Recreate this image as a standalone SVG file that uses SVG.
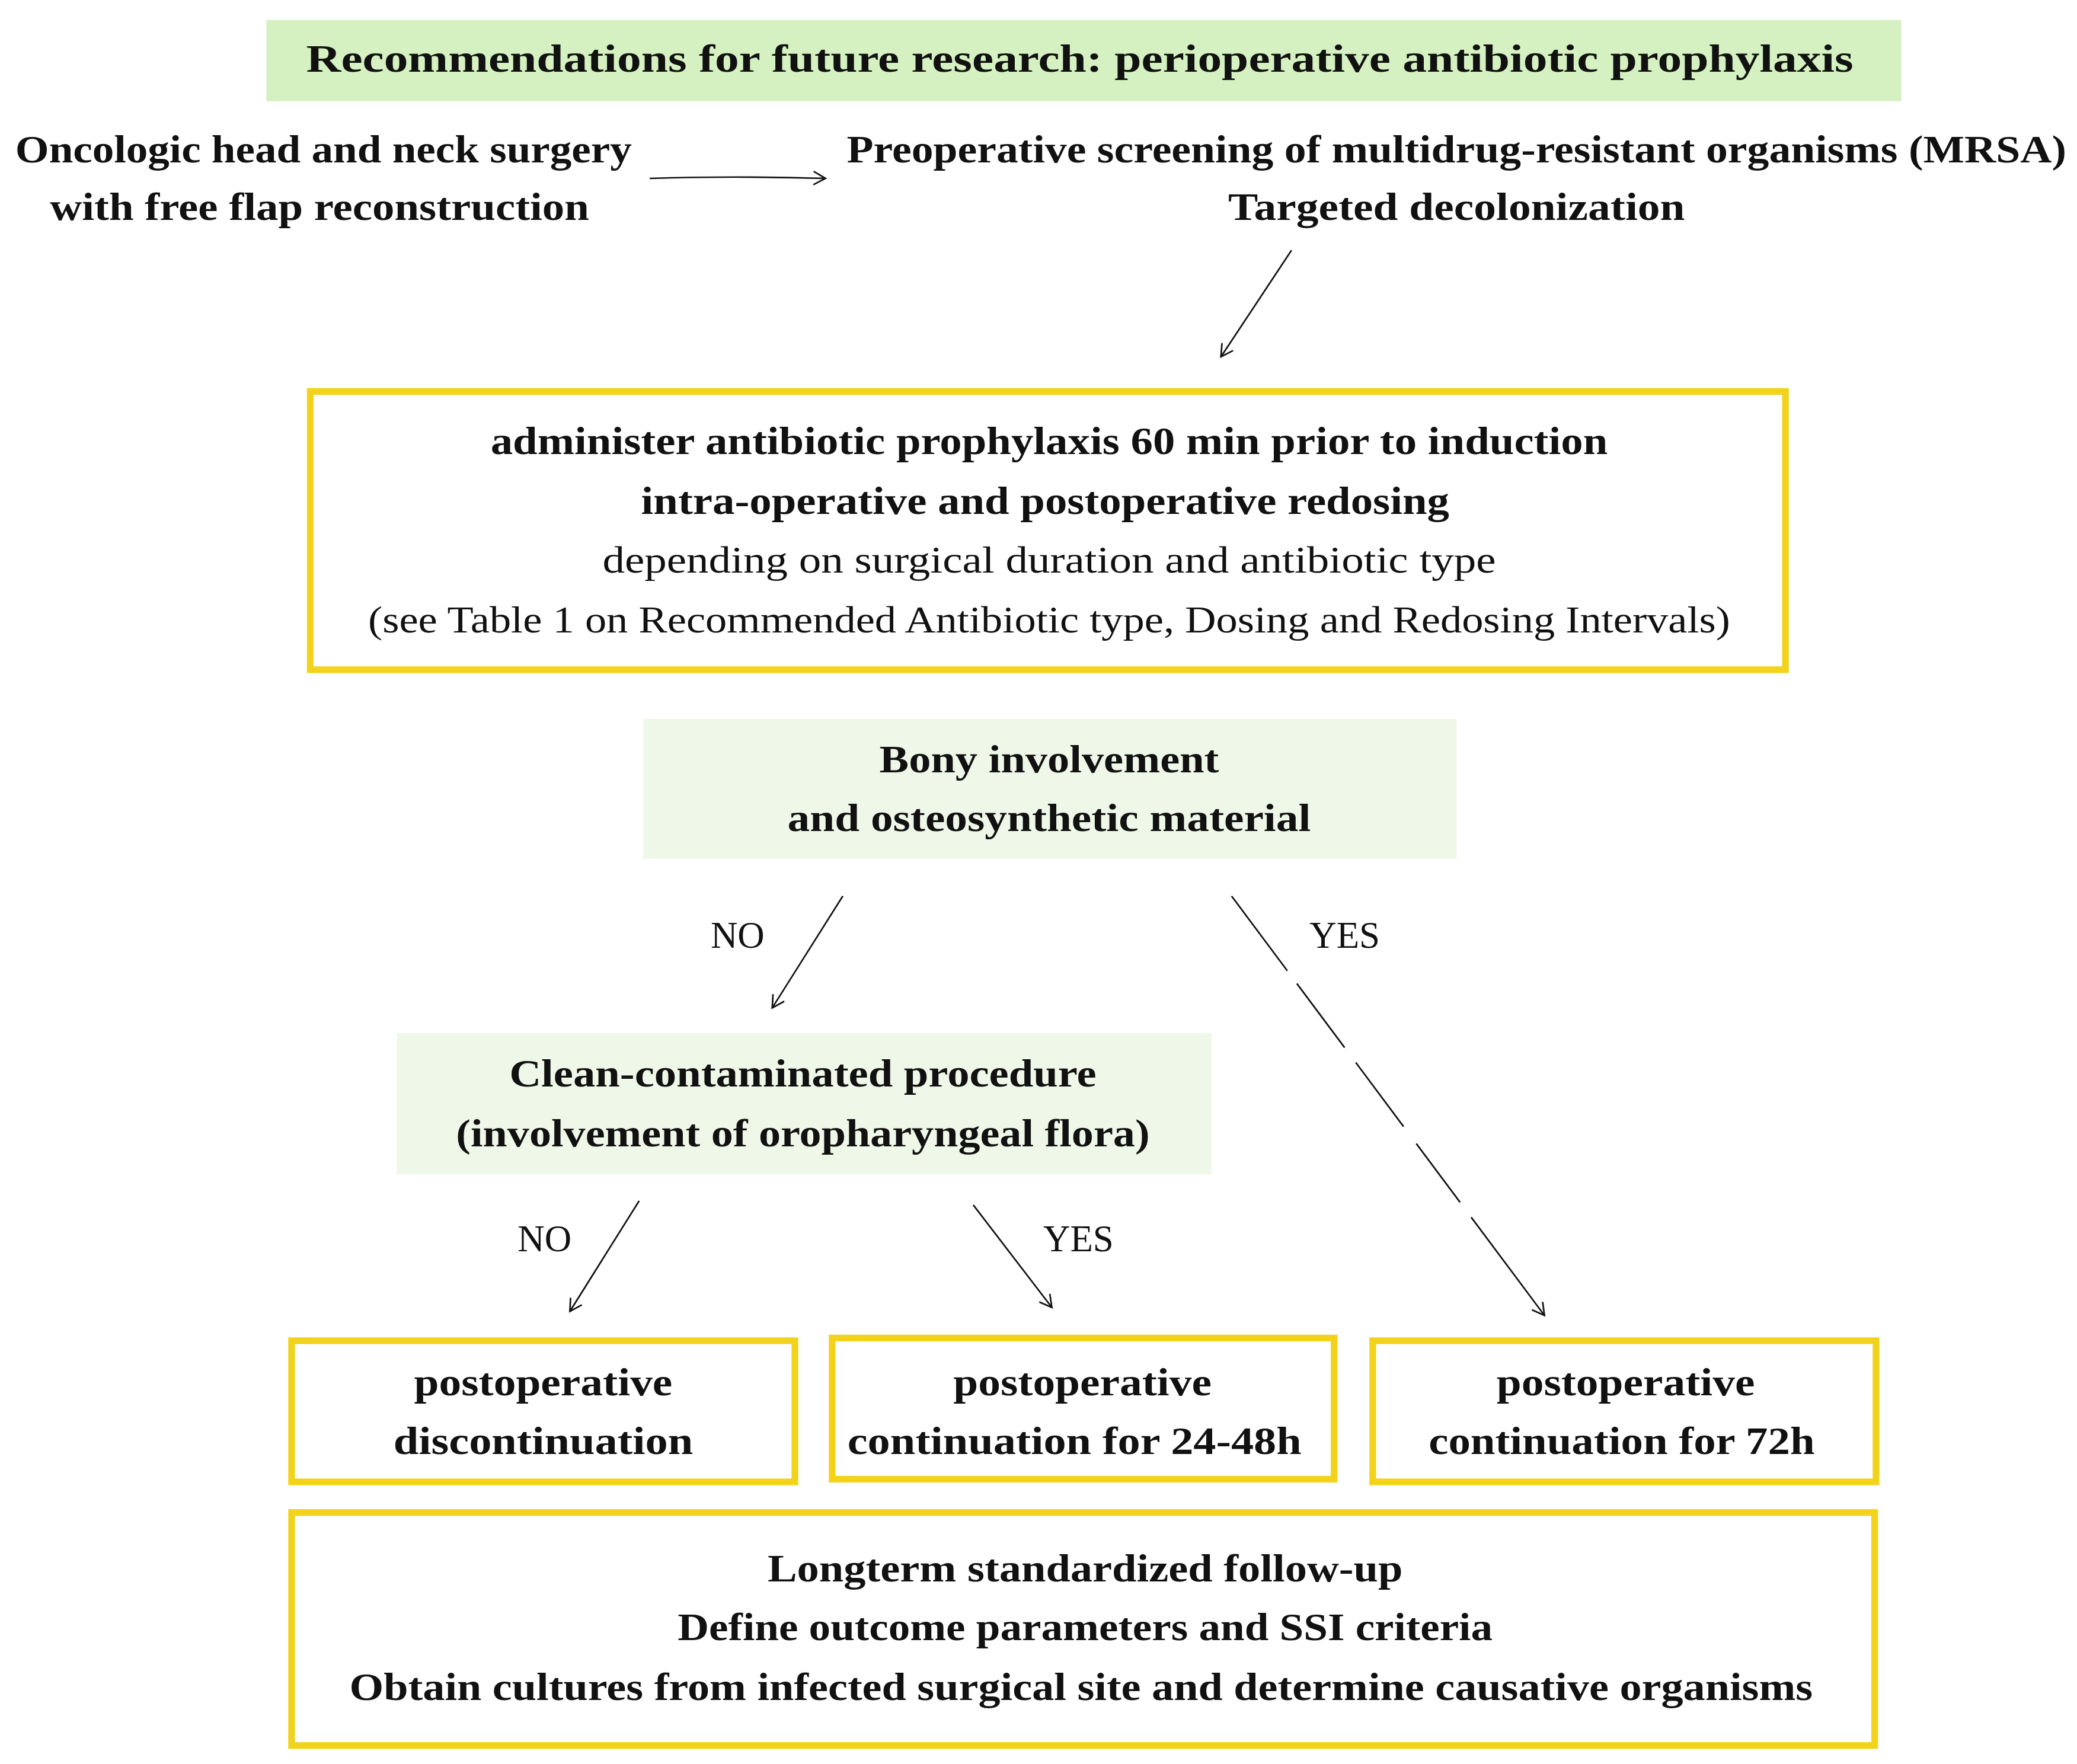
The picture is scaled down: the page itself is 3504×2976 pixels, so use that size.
<svg xmlns="http://www.w3.org/2000/svg" width="3504" height="2976" viewBox="0 0 3504 2976">
<style>
.b{font-family:"Liberation Serif","DejaVu Serif",serif;font-weight:bold;font-size:29px;fill:#111;text-anchor:middle}
.r{font-family:"Liberation Serif","DejaVu Serif",serif;font-size:28px;fill:#111;text-anchor:middle}
.yb{fill:#fff;stroke:#f2d21a;stroke-width:5}
.c{stroke:#111;stroke-width:1.2;fill:none}
</style>
<defs><marker id="a" markerWidth="12" markerHeight="12" refX="10" refY="6" orient="auto" markerUnits="userSpaceOnUse"><path d="M1,1 L10,6 L1,11" fill="none" stroke="#111" stroke-width="1.2"/></marker></defs>
<rect width="3504" height="2976" fill="#fff"/>
<g transform="scale(2.2462)">
<g id="title"><rect x="200" y="15" width="1228" height="61" fill="#d5f0c1"/><text class="b" x="811" y="54" textLength="1162" lengthAdjust="spacingAndGlyphs">Recommendations for future research: perioperative antibiotic prophylaxis</text></g>
<g id="surgery"><text class="b" x="243" y="122" textLength="463" lengthAdjust="spacingAndGlyphs">Oncologic head and neck surgery</text><text class="b" x="240" y="165" textLength="405" lengthAdjust="spacingAndGlyphs">with free flap reconstruction</text></g>
<g id="screening"><text class="b" x="1094" y="122" textLength="916" lengthAdjust="spacingAndGlyphs">Preoperative screening of multidrug-resistant organisms (MRSA)</text><text class="b" x="1094" y="165" textLength="343" lengthAdjust="spacingAndGlyphs">Targeted decolonization</text></g>
<g id="prophylaxis"><rect class="yb" x="233" y="294" width="1108" height="209"/>
<text class="b" x="788" y="341" textLength="839" lengthAdjust="spacingAndGlyphs">administer antibiotic prophylaxis 60 min prior to induction</text>
<text class="b" x="785" y="386" textLength="607" lengthAdjust="spacingAndGlyphs">intra-operative and postoperative redosing</text>
<text class="r" x="788" y="430" textLength="671" lengthAdjust="spacingAndGlyphs">depending on surgical duration and antibiotic type</text>
<text class="r" x="788" y="475" textLength="1023" lengthAdjust="spacingAndGlyphs">(see Table 1 on Recommended Antibiotic type, Dosing and Redosing Intervals)</text></g>
<g id="bony"><rect x="483" y="540" width="611" height="105" fill="#eff8e8"/><text class="b" x="788" y="580" textLength="255" lengthAdjust="spacingAndGlyphs">Bony involvement</text><text class="b" x="788" y="624" textLength="393" lengthAdjust="spacingAndGlyphs">and osteosynthetic material</text></g>
<g id="clean"><rect x="298" y="776" width="612" height="106" fill="#eff8e8"/><text class="b" x="603" y="816" textLength="441" lengthAdjust="spacingAndGlyphs">Clean-contaminated procedure</text><text class="b" x="603" y="861" textLength="521" lengthAdjust="spacingAndGlyphs">(involvement of oropharyngeal flora)</text></g>
<g id="disc"><rect class="yb" x="219" y="1007" width="378" height="106"/><text class="b" x="408" y="1048" textLength="194" lengthAdjust="spacingAndGlyphs">postoperative</text><text class="b" x="408" y="1092" textLength="225" lengthAdjust="spacingAndGlyphs">discontinuation</text></g>
<g id="cont2448"><rect class="yb" x="625" y="1005" width="377" height="106"/><text class="b" x="813" y="1048" textLength="194" lengthAdjust="spacingAndGlyphs">postoperative</text><text class="b" x="807" y="1092" textLength="341" lengthAdjust="spacingAndGlyphs">continuation for 24-48h</text></g>
<g id="cont72"><rect class="yb" x="1031" y="1007" width="378" height="106"/><text class="b" x="1221" y="1048" textLength="194" lengthAdjust="spacingAndGlyphs">postoperative</text><text class="b" x="1218" y="1092" textLength="290" lengthAdjust="spacingAndGlyphs">continuation for 72h</text></g>
<g id="followup"><rect class="yb" x="219" y="1136" width="1189" height="175"/>
<text class="b" x="815" y="1188" textLength="477" lengthAdjust="spacingAndGlyphs">Longterm standardized follow-up</text>
<text class="b" x="815" y="1232" textLength="612" lengthAdjust="spacingAndGlyphs">Define outcome parameters and SSI criteria</text>
<text class="b" x="812" y="1277" textLength="1099" lengthAdjust="spacingAndGlyphs">Obtain cultures from infected surgical site and determine causative organisms</text></g>
<g id="connectors">
<path class="c" d="M488,134 Q550,132 620,134" marker-end="url(#a)"/>
<path class="c" d="M970,188 L917,268" marker-end="url(#a)"/>
<path class="c" d="M633,673 L580,757" marker-end="url(#a)"/>
<path class="c" d="M925,673 L1160,988" stroke-dasharray="70,12,60,14,60,16,55,14,200" marker-end="url(#a)"/>
<path class="c" d="M480,902 L428,985" marker-end="url(#a)"/>
<path class="c" d="M731,905 L790,982" marker-end="url(#a)"/>
<text class="r" x="554" y="712">NO</text><text class="r" x="1010" y="712">YES</text>
<text class="r" x="409" y="940">NO</text><text class="r" x="810" y="940">YES</text>
</g>
</g>
</svg>
